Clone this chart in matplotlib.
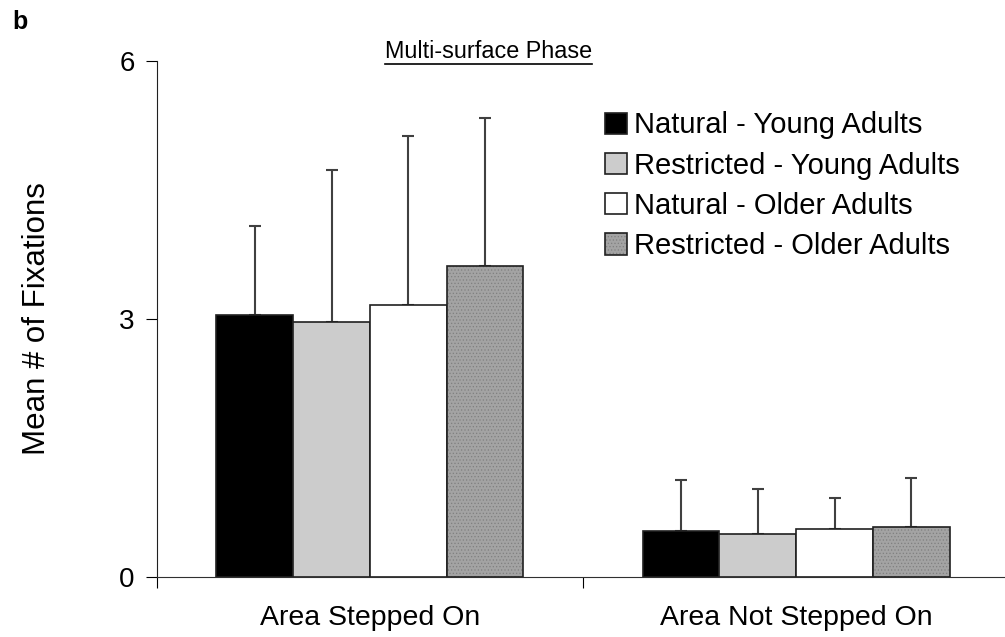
import numpy as np
import matplotlib
matplotlib.use('Agg')
from matplotlib import pyplot as plt
from matplotlib.lines import Line2D

plt.rcParams['font.family'] = ['Liberation Sans', 'DejaVu Sans']
plt.rcParams['hatch.linewidth'] = 0.5

categories = ['Area Stepped On', 'Area Not Stepped On']
series = ['Natural - Young Adults', 'Restricted - Young Adults',
          'Natural - Older Adults', 'Restricted - Older Adults']
means = [[3.05, 0.53],
         [2.97, 0.50],
         [3.16, 0.56],
         [3.62, 0.58]]
sd = [[1.03, 0.60],
      [1.76, 0.52],
      [1.97, 0.36],
      [1.72, 0.57]]
yticks = [0, 3, 6]

faces = ['black', '#cccccc', 'white', '#a3a3a3']
hatches = [None, None, None, '.....']

fig = plt.figure(figsize=(10.05, 6.37), dpi=100)
ax = fig.add_axes([0.156, 0.0942, 0.844, 0.810])

centers = np.array([0.5, 1.5])
width = 0.18
for i in range(len(series)):
    x = centers + (i - 1.5) * width
    bars = ax.bar(x, means[i], width, color=faces[i], edgecolor='#202020',
                  linewidth=1.2, hatch=hatches[i], label=series[i], zorder=2)
    if hatches[i]:
        for b in bars:
            b._hatch_color = (0.5, 0.5, 0.5, 1.0)
    ax.errorbar(x, means[i], yerr=[np.zeros(2), sd[i]], fmt='none',
                ecolor='#404040', elinewidth=1.5, capsize=4, capthick=1.5,
                zorder=1)

ax.set_xlim(0, 1.99)
ax.set_ylim(0, 6)
ax.set_yticks(yticks)
ax.tick_params(axis='y', labelsize=20, length=8, direction='out', pad=8)
ax.set_xticks([0, 1])
ax.set_xticklabels(['', ''])
ax.tick_params(axis='x', length=8, direction='out')
ax.set_xticks(centers, minor=True)
ax.set_xticklabels(categories, minor=True, fontsize=20.5)
ax.tick_params(axis='x', which='minor', length=0, pad=20)
for s in ['top', 'right']:
    ax.spines[s].set_visible(False)
ax.spines['left'].set_color('#202020')
ax.spines['bottom'].set_color('#303030')
ax.set_ylabel('Mean # of Fixations', fontsize=22.5)
ax.yaxis.set_label_coords(-0.124, 0.5)

leg = ax.legend(loc='upper left', bbox_to_anchor=(0.515, 0.925), frameon=False,
                fontsize=21, handlelength=0.75, handleheight=0.75,
                handletextpad=0.25, labelspacing=0.42, borderaxespad=0)

fig.text(0.012, 0.965, 'b', fontsize=18, fontweight='bold', va='center')
t = fig.text(0.4865, 1 - 58 / 637, 'Multi-surface Phase', fontsize=16.8,
             ha='center', va='baseline')
fig.canvas.draw()
bb = t.get_window_extent().transformed(fig.transFigure.inverted())
fig.add_artist(Line2D([bb.x0, bb.x1], [1 - 64 / 637] * 2, color='black',
                      linewidth=1.2, transform=fig.transFigure))

fig.savefig('out.png', dpi=100)
